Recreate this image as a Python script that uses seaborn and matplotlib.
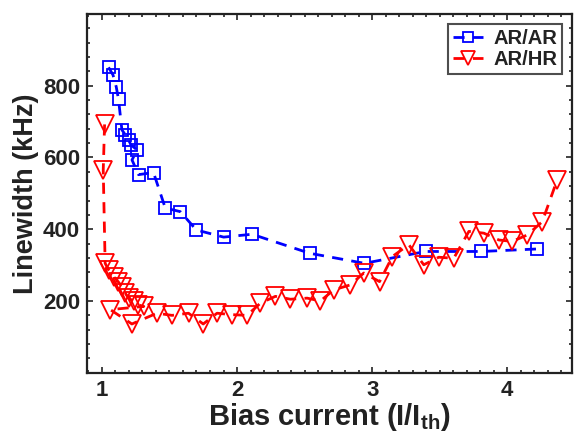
import pandas as pd
import matplotlib
matplotlib.use("Agg")
import matplotlib.pyplot as plt
import seaborn as sns
from matplotlib.ticker import MultipleLocator

##############################################################################
# data
##############################################################################
ar_ar_current = [1.049, 1.082, 1.106, 1.123, 1.148, 1.173, 1.197, 1.215, 1.260,
                 1.223, 1.271, 1.382, 1.469, 1.580, 1.699, 1.901, 2.111, 2.538,
                 2.943, 3.396, 3.808, 4.222]
ar_ar_width = [851, 830, 797, 762, 677, 663, 649, 635, 621,
               593, 552, 558, 459, 449, 398, 378, 386, 333,
               305, 338, 338, 345]

ar_hr_current = [1.02, 1.01, 1.024, 1.049, 1.086, 1.12, 1.148, 1.173, 1.197,
                 1.234, 1.27, 1.31, 1.062, 1.222, 1.407, 1.519, 1.641, 1.75,
                 1.852, 1.963, 2.074, 2.173, 2.284, 2.395, 2.519, 2.617, 2.716,
                 2.839, 2.938, 3.055, 3.150, 3.271, 3.382, 3.493, 3.604, 3.716,
                 3.827, 3.938, 4.037, 4.148, 4.259, 4.370]
ar_hr_width = [692, 565, 305, 287, 268, 254, 240, 222, 208,
               199, 189, 185, 176, 136, 166, 160, 166, 136,
               166, 162, 160, 194, 213, 205, 208, 200, 231,
               245, 278, 254, 324, 357, 301, 322, 319, 394,
               389, 370, 366, 384, 421, 538]

x_ticks = [1, 2, 3, 4]
y_ticks = [200, 400, 600, 800]

ar_ar = pd.DataFrame({"current": ar_ar_current, "width": ar_ar_width})
ar_hr = pd.DataFrame({"current": ar_hr_current, "width": ar_hr_width})

##############################################################################
# style
##############################################################################
sns.set_theme(style="ticks")
plt.rcParams["font.family"] = ["Liberation Sans", "DejaVu Sans"]
plt.rcParams["font.weight"] = "bold"
plt.rcParams["mathtext.fontset"] = "custom"
plt.rcParams["mathtext.bf"] = "Liberation Sans:bold"
plt.rcParams["mathtext.rm"] = "Liberation Sans:bold"

fig = plt.figure(figsize=(5.88, 4.47), dpi=100)
ax = fig.add_axes([0.148, 0.166, 0.825, 0.803])

dash = (0, (4, 3))

sns.lineplot(
    data=ar_ar, x="current", y="width", sort=False, estimator=None,
    color="blue", linewidth=2.0, linestyle=dash,
    marker="s", markersize=9, markerfacecolor="none",
    markeredgecolor="blue", markeredgewidth=1.3,
    label="AR/AR", ax=ax,
)
sns.lineplot(
    data=ar_hr, x="current", y="width", sort=False, estimator=None,
    color="red", linewidth=2.0, linestyle=dash,
    marker="v", markersize=13, markerfacecolor="none",
    markeredgecolor="red", markeredgewidth=1.3,
    label="AR/HR", ax=ax,
)

# axes layout
ax.set_xlim(0.89, 4.48)
ax.set_ylim(0, 1000)
ax.set_xticks(x_ticks)
ax.set_yticks(y_ticks)
ax.xaxis.set_minor_locator(MultipleLocator(0.1))
ax.yaxis.set_minor_locator(MultipleLocator(40))
ax.tick_params(which="both", direction="in", top=True, right=True,
               width=1.2, color="#222222", labelsize=16, labelcolor="#222222")
ax.tick_params(which="major", length=4, pad=5)
ax.tick_params(which="minor", length=2)
for s in ax.spines.values():
    s.set_linewidth(1.6)
    s.set_color("#222222")

ax.set_xlabel(r"Bias current (I/I$_{\mathbf{th}}$)", fontsize=21,
              fontweight="bold", color="#222222", labelpad=0)
ax.set_ylabel("Linewidth (kHz)", fontsize=19.5, fontweight="bold",
              color="#222222", labelpad=3)

leg = ax.legend(loc="upper right", fontsize=14.5, frameon=True, fancybox=False,
                handlelength=1.5, handletextpad=0.5, borderpad=0.25,
                labelspacing=0.1, borderaxespad=0.5, markerscale=0.8)
leg.get_frame().set_edgecolor("#222222")
leg.get_frame().set_linewidth(1.5)
for t in leg.get_texts():
    t.set_fontweight("bold")
    t.set_color("#222222")

fig.savefig("out.png", dpi=100)
